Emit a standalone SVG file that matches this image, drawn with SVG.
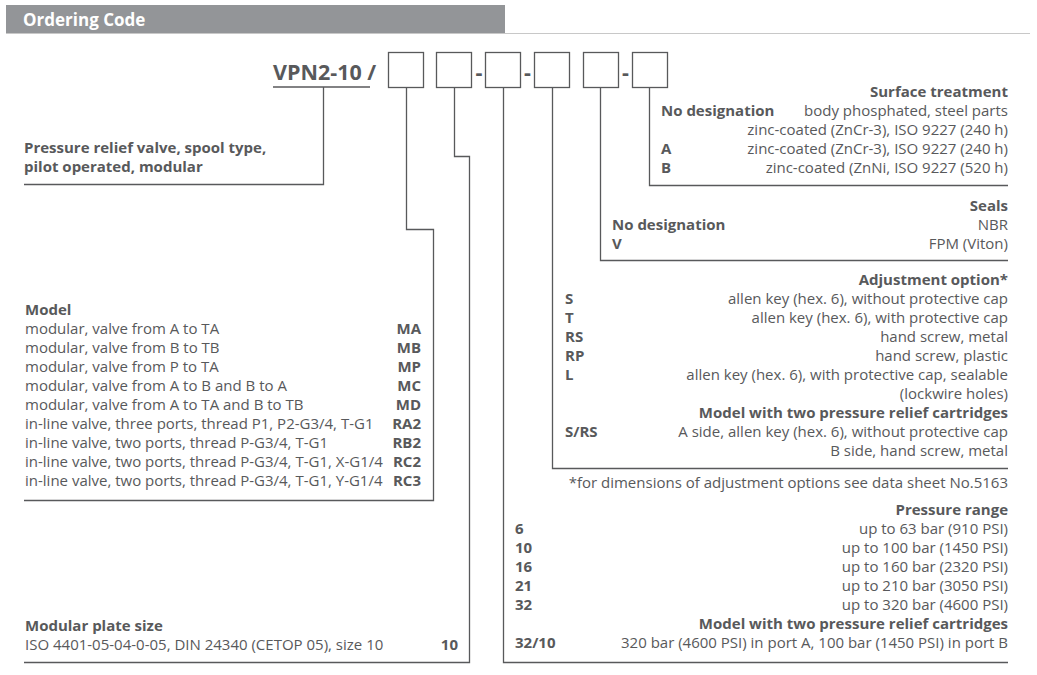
<svg xmlns="http://www.w3.org/2000/svg" width="1037" height="675" viewBox="0 0 1037 675">
<style>
text{font-family:"Open Sans","Liberation Sans",sans-serif;font-size:15px;fill:#58595b}
.b{font-weight:bold}
.r{text-anchor:end}
.hd{font-size:17px;font-weight:bold;fill:#ffffff}
.code{font-size:21.5px;font-weight:bold}
.ln{fill:none;stroke:#58595b;stroke-width:1.3}
.box{fill:#ffffff;stroke:#58595b;stroke-width:1.3}
</style>
<rect width="1037" height="675" fill="#ffffff"/>
<g id="header">
<rect x="6" y="5" width="499" height="28" fill="#939598"/>
<line x1="6" y1="33.5" x2="1030" y2="33.5" stroke="#c8c8c8" stroke-width="1"/>
<text x="23" y="26" class="hd">Ordering Code</text>
</g>
<g id="code">
<text x="273" y="80" class="code">VPN2-10 /</text>
<line x1="273" y1="87" x2="370" y2="87" class="ln"/>
<rect x="388.5" y="52.5" width="35" height="35" class="box"/>
<rect x="436.5" y="52.5" width="35" height="35" class="box"/>
<text x="479" y="80" class="code" text-anchor="middle">-</text>
<rect x="485.5" y="52.5" width="35" height="35" class="box"/>
<text x="527.5" y="80" class="code" text-anchor="middle">-</text>
<rect x="534.5" y="52.5" width="35" height="35" class="box"/>
<rect x="583.5" y="52.5" width="35" height="35" class="box"/>
<text x="625.5" y="80" class="code" text-anchor="middle">-</text>
<rect x="632.5" y="52.5" width="35" height="35" class="box"/>
</g>
<g id="connectors">
<polyline points="323.5,87 323.5,184.5 24,184.5" class="ln"/>
<polyline points="406.5,88 406.5,229.5 433.5,229.5 433.5,500.5 24,500.5" class="ln"/>
<polyline points="454.5,88 454.5,156.5 469.5,156.5 469.5,662.5 24,662.5" class="ln"/>
<polyline points="503.5,88 503.5,662.5 1008,662.5" class="ln"/>
<polyline points="552.5,88 552.5,468.5 1008,468.5" class="ln"/>
<polyline points="600.5,88 600.5,260.5 1008,260.5" class="ln"/>
<polyline points="649.5,88 649.5,185.5 1008,185.5" class="ln"/>
</g>
<g id="valve-type">
<text x="24" y="153" class="b">Pressure relief valve, spool type,</text>
<text x="24" y="172" class="b">pilot operated, modular</text>
</g>
<g id="model">
<text x="25" y="315" class="b">Model</text>
<text x="25" y="334">modular, valve from A to TA</text>
<text x="421" y="334" class="b r">MA</text>
<text x="25" y="353">modular, valve from B to TB</text>
<text x="421" y="353" class="b r">MB</text>
<text x="25" y="372">modular, valve from P to TA</text>
<text x="421" y="372" class="b r">MP</text>
<text x="25" y="391">modular, valve from A to B and B to A</text>
<text x="421" y="391" class="b r">MC</text>
<text x="25" y="410">modular, valve from A to TA and B to TB</text>
<text x="421" y="410" class="b r">MD</text>
<text x="25" y="429">in-line valve, three ports, thread P1, P2-G3/4, T-G1</text>
<text x="421" y="429" class="b r">RA2</text>
<text x="25" y="448">in-line valve, two ports, thread P-G3/4, T-G1</text>
<text x="421" y="448" class="b r">RB2</text>
<text x="25" y="467">in-line valve, two ports, thread P-G3/4, T-G1, X-G1/4</text>
<text x="421" y="467" class="b r">RC2</text>
<text x="25" y="486">in-line valve, two ports, thread P-G3/4, T-G1, Y-G1/4</text>
<text x="421" y="486" class="b r">RC3</text>
</g>
<g id="plate-size">
<text x="25" y="631" class="b">Modular plate size</text>
<text x="25" y="650">ISO 4401-05-04-0-05, DIN 24340 (CETOP 05), size 10</text>
<text x="458" y="650" class="b r">10</text>
</g>
<g id="surface">
<text x="1008" y="97" class="b r">Surface treatment</text>
<text x="661" y="116" class="b">No designation</text>
<text x="1008" y="116" class="r">body phosphated, steel parts</text>
<text x="1008" y="135" class="r">zinc-coated (ZnCr-3), ISO 9227 (240 h)</text>
<text x="661" y="154" class="b">A</text>
<text x="1008" y="154" class="r">zinc-coated (ZnCr-3), ISO 9227 (240 h)</text>
<text x="661" y="173" class="b">B</text>
<text x="1008" y="173" class="r">zinc-coated (ZnNi, ISO 9227 (520 h)</text>
</g>
<g id="seals">
<text x="1008" y="211" class="b r">Seals</text>
<text x="612" y="230" class="b">No designation</text>
<text x="1008" y="230" class="r">NBR</text>
<text x="612" y="249" class="b">V</text>
<text x="1008" y="249" class="r">FPM (Viton)</text>
</g>
<g id="adjustment">
<text x="1008" y="285" class="b r">Adjustment option*</text>
<text x="565" y="304" class="b">S</text>
<text x="1008" y="304" class="r">allen key (hex. 6), without protective cap</text>
<text x="565" y="323" class="b">T</text>
<text x="1008" y="323" class="r">allen key (hex. 6), with protective cap</text>
<text x="565" y="342" class="b">RS</text>
<text x="1008" y="342" class="r">hand screw, metal</text>
<text x="565" y="361" class="b">RP</text>
<text x="1008" y="361" class="r">hand screw, plastic</text>
<text x="565" y="380" class="b">L</text>
<text x="1008" y="380" class="r">allen key (hex. 6), with protective cap, sealable</text>
<text x="1008" y="399" class="r">(lockwire holes)</text>
<text x="1008" y="418" class="b r">Model with two pressure relief cartridges</text>
<text x="565" y="437" class="b">S/RS</text>
<text x="1008" y="437" class="r">A side, allen key (hex. 6), without protective cap</text>
<text x="1008" y="456" class="r">B side, hand screw, metal</text>
<text x="1008" y="488" class="r">*for dimensions of adjustment options see data sheet No.5163</text>
</g>
<g id="pressure">
<text x="1008" y="515" class="b r">Pressure range</text>
<text x="515" y="534" class="b">6</text>
<text x="1008" y="534" class="r">up to 63 bar (910 PSI)</text>
<text x="515" y="553" class="b">10</text>
<text x="1008" y="553" class="r">up to 100 bar (1450 PSI)</text>
<text x="515" y="572" class="b">16</text>
<text x="1008" y="572" class="r">up to 160 bar (2320 PSI)</text>
<text x="515" y="591" class="b">21</text>
<text x="1008" y="591" class="r">up to 210 bar (3050 PSI)</text>
<text x="515" y="610" class="b">32</text>
<text x="1008" y="610" class="r">up to 320 bar (4600 PSI)</text>
<text x="1008" y="629" class="b r">Model with two pressure relief cartridges</text>
<text x="515" y="648" class="b">32/10</text>
<text x="1008" y="648" class="r">320 bar (4600 PSI) in port A, 100 bar (1450 PSI) in port B</text>
</g>
</svg>
